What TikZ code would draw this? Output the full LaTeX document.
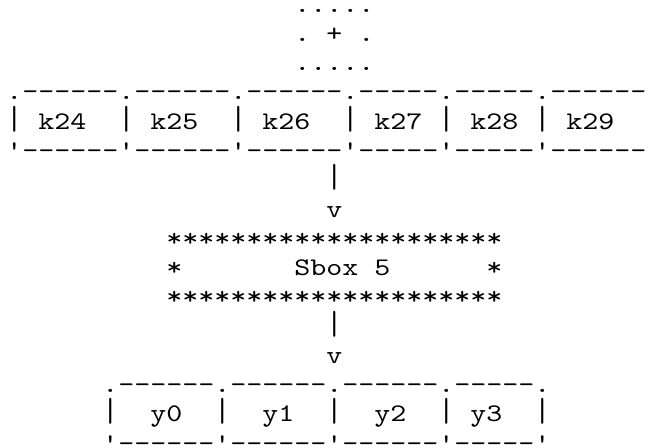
\documentclass[tikz,border=0pt]{standalone}
\usepackage{fontspec}
\usepackage{graphicx}
\newfontfamily\asciifont{lmmono10-regular.otf}
\newcommand{\wide}[1]{\scalebox{1.203}[1]{#1}}
\newcommand{\tbar}{\scalebox{1}[1.32]{|}}
\frenchspacing
\begin{document}
\begin{tikzpicture}[x=1pt,y=1pt,
  asc/.style={anchor=base west, inner sep=0pt, outer sep=0pt,
    font={\asciifont\fontsize{19pt}{22pt}\selectfont}}]
\path[fill=white, use as bounding box] (0,0) rectangle (489,-336);
% plus block
\node[asc] (r1)  at (220.725,-9.15)   {\wide{.....}};
\node[asc] (r2)  at (220.725,-31.10)  {\wide{.~+~.}};
\node[asc] (r3)  at (220.725,-53.05)  {\wide{.....}};
% key boxes
\node[asc] (r4)  at (4.725,-75.00)  {\wide{.------.------.------.-----.-----.------.}};
\node[asc] (r5)  at (4.725,-96.95)  {\wide{\tbar~k24~~\tbar~k25~~\tbar~k26~~\tbar~k27~\tbar~k28~\tbar~k29~~\tbar}};
\node[asc] (r6)  at (4.725,-118.90) {\wide{'------'------'------'-----'-----'------'}};
% arrow
\node[asc] (r7)  at (244.725,-140.85) {\wide{\tbar}};
\node[asc] (r8)  at (244.725,-162.80) {\wide{v}};
% sbox
\node[asc] (r9)  at (124.725,-184.75) {\wide{*********************}};
\node[asc] (r10) at (124.725,-206.70) {\wide{*~~~~~~~Sbox~5~~~~~~*}};
\node[asc] (r11) at (124.725,-228.65) {\wide{*********************}};
% arrow
\node[asc] (r12) at (244.725,-250.60) {\wide{\tbar}};
\node[asc] (r13) at (244.725,-272.55) {\wide{v}};
% output boxes
\node[asc] (r14) at (76.725,-294.50) {\wide{.------.------.------.-----.}};
\node[asc] (r15) at (76.725,-316.45) {\wide{\tbar~~y0~~\tbar~~y1~~\tbar~~y2~~\tbar~y3~~\tbar}};
\node[asc] (r16) at (76.725,-338.40) {\wide{'------'------'------'-----'}};
\end{tikzpicture}
\end{document}
